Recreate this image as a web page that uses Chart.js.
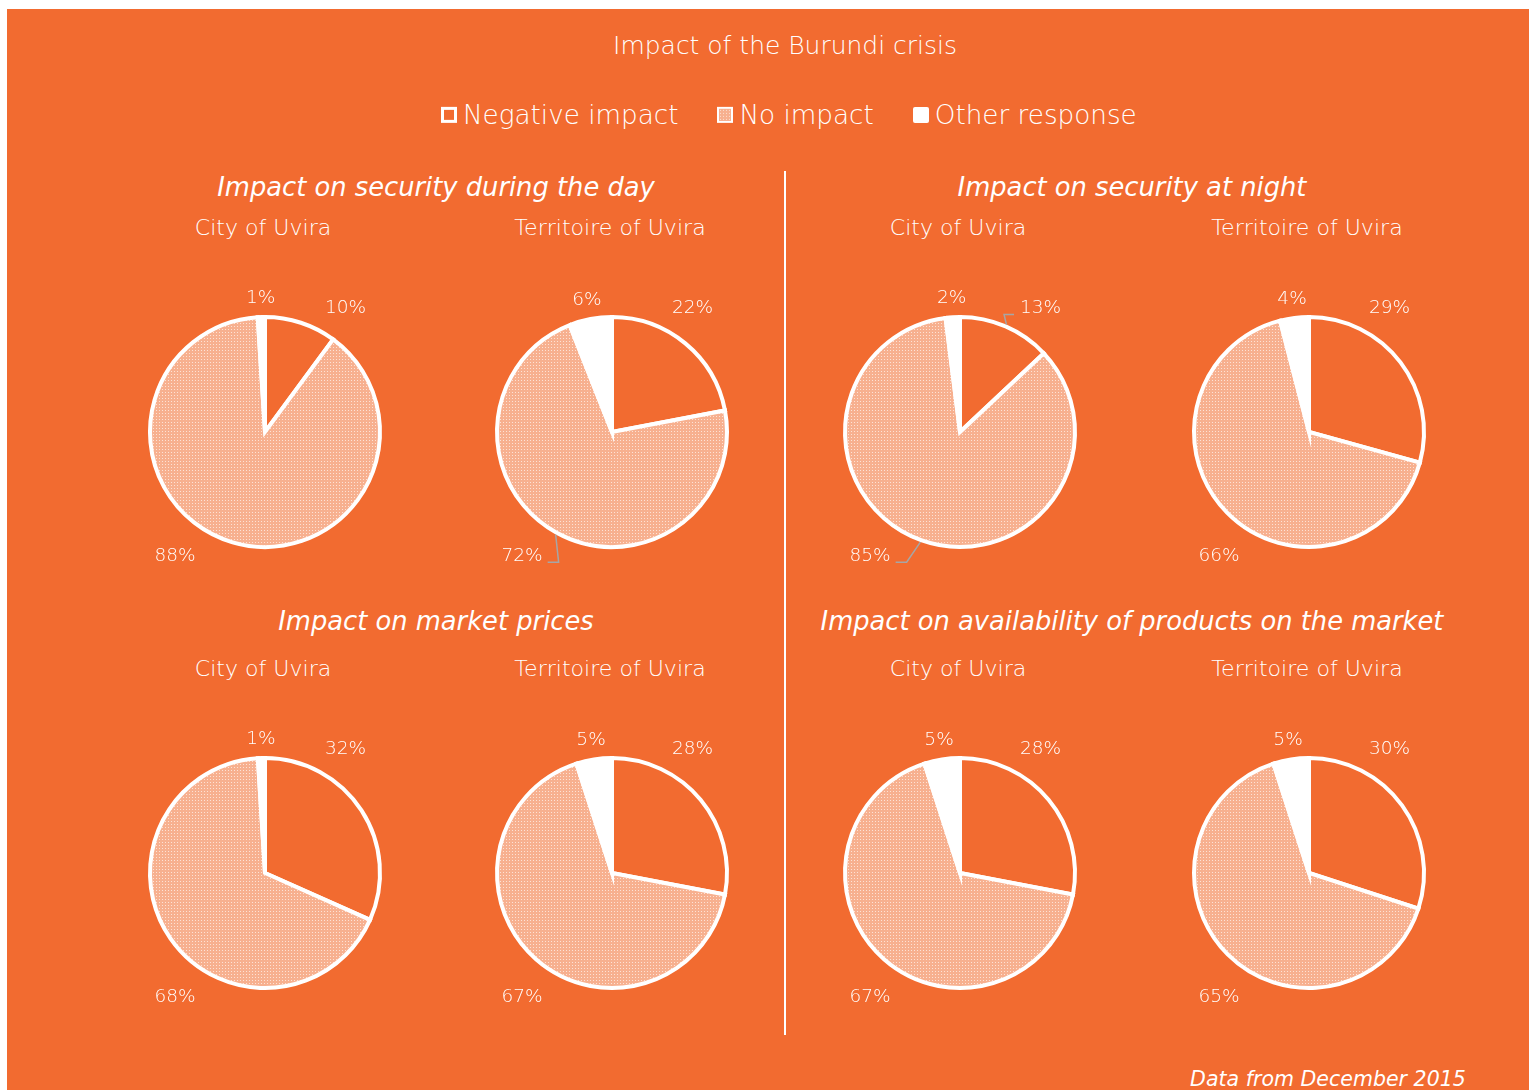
<!DOCTYPE html>
<html><head><meta charset="utf-8">
<script src="https://cdn.jsdelivr.net/npm/chart.js@4.4.1/dist/chart.umd.min.js"></script>
<style>
html,body{margin:0;padding:0;background:#fff;}
#stage{position:relative;width:1529px;height:1090px;overflow:hidden;background:#fff;font-family:'DejaVu Sans',sans-serif;font-weight:300;color:#fff;}
#panel{position:absolute;left:7px;top:9px;right:0;bottom:0;background:#F26B30;}
.t{position:absolute;white-space:nowrap;line-height:1;transform:translate(-50%,-50%);}
.i{font-style:italic;}
canvas.pie{position:absolute;}
#divider{position:absolute;left:784px;top:171px;width:2px;height:864px;background:#fff;}
#legend{position:absolute;top:115px;left:441px;transform:translateY(-50%);display:flex;align-items:center;white-space:nowrap;line-height:1;}
.li{display:flex;align-items:center;margin-right:39px;}
.li:last-child{margin-right:0;}
.sw{width:16px;height:16px;box-sizing:border-box;margin-right:6px;flex:none;}
</style></head><body>
<div id="stage"><div id="panel"></div><div id="divider"></div></div>
<script>
// ---------- data ----------
const chartTitle = 'Impact of the Burundi crisis';
const categories = ['Negative impact', 'No impact', 'Other response'];
const panelTitles = ['Impact on security during the day', 'Impact on security at night',
                     'Impact on market prices', 'Impact on availability of products on the market'];
const areaNames = ['City of Uvira', 'Territoire of Uvira'];
const dayCity          = [10, 88, 1];
const dayTerritoire    = [22, 72, 6];
const nightCity        = [13, 85, 2];
const nightTerritoire  = [29, 66, 4];
const pricesCity       = [32, 68, 1];
const pricesTerritoire = [28, 67, 5];
const availCity        = [28, 67, 5];
const availTerritoire  = [30, 65, 5];
const footnote = 'Data from December 2015';

// ---------- layout / style ----------
const ORANGE = '#F26B30';
const PIE_X = [265, 612, 960, 1309];
const PIE_Y = [432, 873];
const PANEL_POS = [[436, 188], [1132, 188], [436, 622], [1132, 622]];
const AREA_Y = [228, 669];
const LABEL_ANGLE = [33, 216, null];   // clockwise from 12 o'clock, null = slice middle
const LABEL_DIST = [148, 153, 134];
const LABEL_FONT = "300 18.5px 'DejaVu Sans'";

const pies = [
  {values: dayCity,          panel: 0, area: 0, leaders: []},
  {values: dayTerritoire,    panel: 0, area: 1, leaders: [1]},
  {values: nightCity,        panel: 1, area: 0, leaders: [0, 1]},
  {values: nightTerritoire,  panel: 1, area: 1, leaders: []},
  {values: pricesCity,       panel: 2, area: 0, leaders: []},
  {values: pricesTerritoire, panel: 2, area: 1, leaders: []},
  {values: availCity,        panel: 3, area: 0, leaders: []},
  {values: availTerritoire,  panel: 3, area: 1, leaders: []}
];

const stage = document.getElementById('stage');
function addText(txt, x, y, cls) {
  const d = document.createElement('div');
  d.className = 't' + (cls ? ' ' + cls : '');
  d.textContent = txt;
  d.style.left = x + 'px'; d.style.top = y + 'px';
  stage.appendChild(d);
  return d;
}
function fitGroup(els, targets) {
  const base = 20;
  els.forEach(e => e.style.fontSize = base + 'px');
  const sw = els.reduce((s, e) => s + e.getBoundingClientRect().width, 0);
  const st = targets.reduce((a, b) => a + b, 0);
  const fs = base * st / sw;
  els.forEach(e => e.style.fontSize = fs + 'px');
}

// pattern tile for "No impact"
const tile = document.createElement('canvas'); tile.width = 3; tile.height = 3;
const tc = tile.getContext('2d');
tc.fillStyle = '#F7B08F'; tc.fillRect(0, 0, 3, 3);
tc.fillStyle = '#FDE2D5'; tc.fillRect(1, 1, 1, 1);
const pattern = tc.createPattern(tile, 'repeat');
const tileURL = tile.toDataURL();

// title
fitGroup([addText(chartTitle, 785, 46)], [344]);
// panel titles
fitGroup(panelTitles.map((t, i) => addText(t, PANEL_POS[i][0], PANEL_POS[i][1], 'i')), [437, 346, 317, 625]);
// area names
const areaEls = [], areaT = [];
pies.forEach(p => {
  const row = Math.floor(p.panel / 2), col = (p.panel % 2) * 2 + p.area;
  areaEls.push(addText(areaNames[p.area], PIE_X[col] - 2, AREA_Y[row]));
  areaT.push(p.area ? 190 : 138);
});
fitGroup(areaEls, areaT);
// footnote
fitGroup([addText(footnote, 1328, 1079, 'i')], [276]);

// legend
const swatchStyles = [
  'background:' + ORANGE + ';border:3px solid #fff;',
  'border:2px solid #fff;background:url(' + tileURL + ') repeat;',
  'background:#fff;border-radius:2px;'
];
const legend = document.createElement('div');
legend.id = 'legend';
categories.forEach((c, i) => {
  const li = document.createElement('div'); li.className = 'li';
  const sw = document.createElement('div'); sw.className = 'sw'; sw.style.cssText = swatchStyles[i];
  const tx = document.createElement('span'); tx.textContent = c; tx.className = 'lt';
  li.appendChild(sw); li.appendChild(tx); legend.appendChild(li);
});
stage.appendChild(legend);
fitGroup(Array.from(legend.querySelectorAll('.lt')), [219, 137, 196]);

const labelPlugin = {
  id: 'pctLabels',
  afterDatasetsDraw(chart, args, opts) {
    const ctx = chart.ctx;
    const meta = chart.getDatasetMeta(0);
    const vals = chart.data.datasets[0].data;
    ctx.save();
    ctx.font = LABEL_FONT;
    ctx.fillStyle = '#fff'; ctx.textAlign = 'center'; ctx.textBaseline = 'middle';
    meta.data.forEach((arc, i) => {
      const p = arc.getProps(['x', 'y', 'startAngle', 'endAngle', 'outerRadius'], true);
      const mid = (p.startAngle + p.endAngle) / 2;
      const a = LABEL_ANGLE[i] == null ? mid : (LABEL_ANGLE[i] - 90) * Math.PI / 180;
      const lx = p.x + LABEL_DIST[i] * Math.cos(a), ly = p.y + LABEL_DIST[i] * Math.sin(a);
      const txt = vals[i] + '%';
      const w = ctx.measureText(txt).width;
      if ((opts.leaders || []).includes(i)) {
        const r = p.outerRadius + 2;
        const sx = p.x + r * Math.cos(mid), sy = p.y + r * Math.sin(mid);
        const left = lx < p.x;
        const ex = left ? lx + w / 2 + 5 : lx - w / 2 - 6;
        const bx = left ? ex + 11 : ex - 10;
        const by = ly + 6.5;
        ctx.beginPath(); ctx.moveTo(sx, sy); ctx.lineTo(bx, by); ctx.lineTo(ex, by);
        ctx.strokeStyle = '#A6A6A6'; ctx.lineWidth = 1.5; ctx.stroke();
      }
      ctx.fillText(txt, lx, ly);
    });
    ctx.restore();
  }
};

const SIZE = 340;
pies.forEach(p => {
  const row = Math.floor(p.panel / 2), col = (p.panel % 2) * 2 + p.area;
  const cv = document.createElement('canvas');
  cv.className = 'pie'; cv.width = SIZE; cv.height = SIZE;
  cv.style.left = (PIE_X[col] - SIZE / 2) + 'px';
  cv.style.top = (PIE_Y[row] - SIZE / 2) + 'px';
  stage.appendChild(cv);
  new Chart(cv, {
    type: 'pie',
    data: {
      labels: categories,
      datasets: [{
        data: p.values,
        backgroundColor: [ORANGE, pattern, '#FFFFFF'],
        borderColor: '#FFFFFF',
        borderWidth: 4,
        borderJoinStyle: 'miter',
        radius: 115
      }]
    },
    options: {
      responsive: false,
      animation: false,
      layout: {padding: 0},
      plugins: {
        legend: {display: false},
        tooltip: {enabled: false},
        pctLabels: {leaders: p.leaders}
      }
    },
    plugins: [labelPlugin]
  });
});
</script></body></html>
